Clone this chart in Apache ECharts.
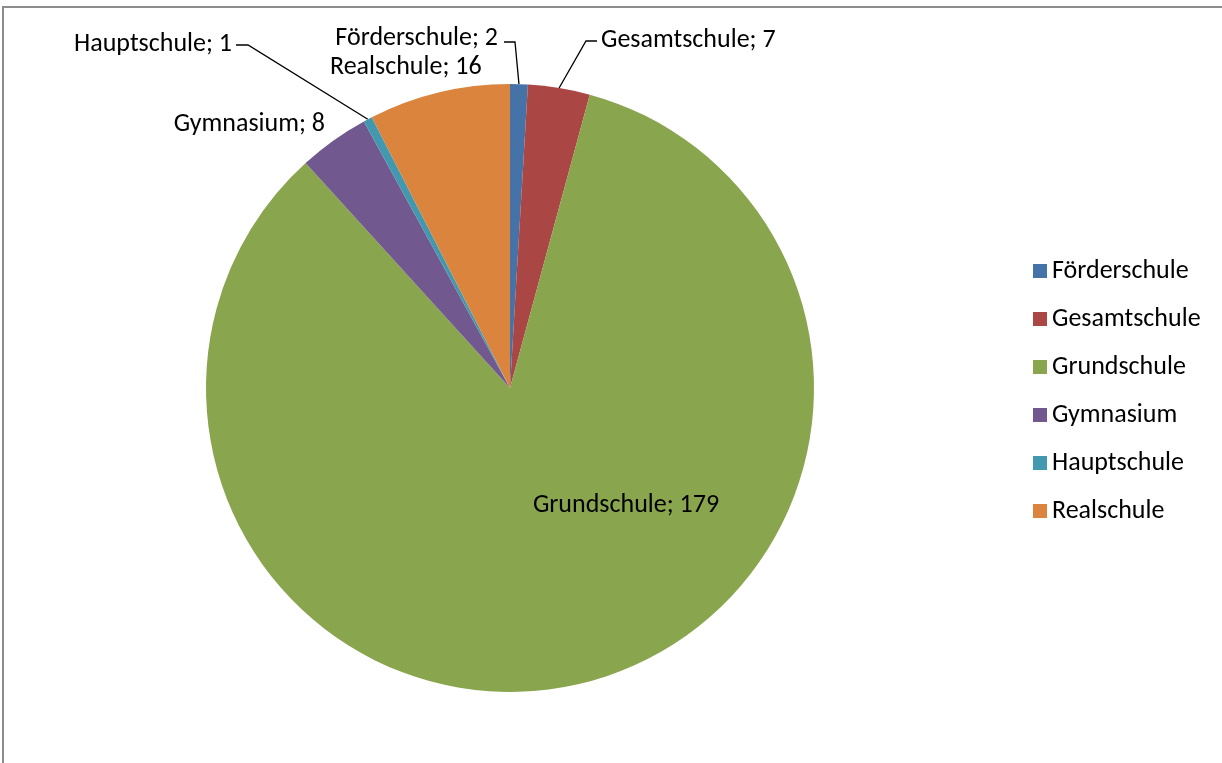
<!DOCTYPE html>
<html>
<head>
<meta charset="utf-8">
<script src="https://cdn.jsdelivr.net/npm/echarts@6/dist/echarts.min.js"></script>
<style>
html,body{margin:0;padding:0;background:#fff;}
#chart{width:1222px;height:763px;}
</style>
</head>
<body>
<div id="chart"></div>
<script>
const categories = ["Förderschule", "Gesamtschule", "Grundschule", "Gymnasium", "Hauptschule", "Realschule"];
const values = [2, 7, 179, 8, 1, 16];
const colors = ["#4572A7", "#AA4643", "#89A54E", "#71588F", "#4198AF", "#DB843D"];

// label placement (layout only)
const labelPlacement = [
  {x: 498, y: 38, align: 'right', line: true, bend: [[515, 42], [504, 42]]},
  {x: 601, y: 40, align: 'left', line: true, bend: [[586, 41], [597, 41]]},
  {x: 626, y: 505, align: 'center', line: false},
  {x: 325, y: 124, align: 'right', line: false},
  {x: 232, y: 44, align: 'right', line: true, bend: [[248, 45], [236, 45]]},
  {x: 330, y: 67, align: 'left', line: false}
];

const FONT = "Carlito, Lato, 'Noto Sans', sans-serif";

const chart = echarts.init(document.getElementById('chart'));
chart.setOption({
  animation: false,
  color: colors,
  graphic: [{
    type: 'rect',
    shape: {x: 3, y: 7, width: 1300, height: 900},
    style: {fill: 'none', stroke: '#8c8c8c', lineWidth: 2},
    silent: true,
    z: -1
  }],
  legend: {
    orient: 'vertical',
    left: 1028,
    top: 253,
    itemWidth: 14,
    itemHeight: 14,
    itemGap: 22,
    icon: 'rect',
    data: categories,
    textStyle: {fontFamily: FONT, fontSize: 26, color: '#000', lineHeight: 26}
  },
  series: [{
    type: 'pie',
    center: [510, 388],
    radius: [0, 304],
    startAngle: 90,
    clockwise: true,
    avoidLabelOverlap: false,
    itemStyle: {borderWidth: 0},
    label: {
      show: true,
      position: 'outside',
      formatter: p => p.name + '; ' + p.value,
      fontFamily: FONT,
      fontSize: 26,
      color: '#000'
    },
    labelLine: {show: true, smooth: false, length: 10, length2: 10, lineStyle: {color: '#000', width: 1.3}},
    labelLayout: function (params) {
      const lp = labelPlacement[params.dataIndex];
      const out = {x: lp.x, y: lp.y, align: lp.align, verticalAlign: 'middle'};
      if (lp.line && params.labelLinePoints) {
        const anchor = params.labelLinePoints[0];
        out.labelLinePoints = [anchor, lp.bend[0], lp.bend[1]];
      }
      return out;
    },
    data: categories.map((c, i) => ({
      name: c,
      value: values[i],
      labelLine: {show: labelPlacement[i].line}
    }))
  }]
});
</script>
</body>
</html>
